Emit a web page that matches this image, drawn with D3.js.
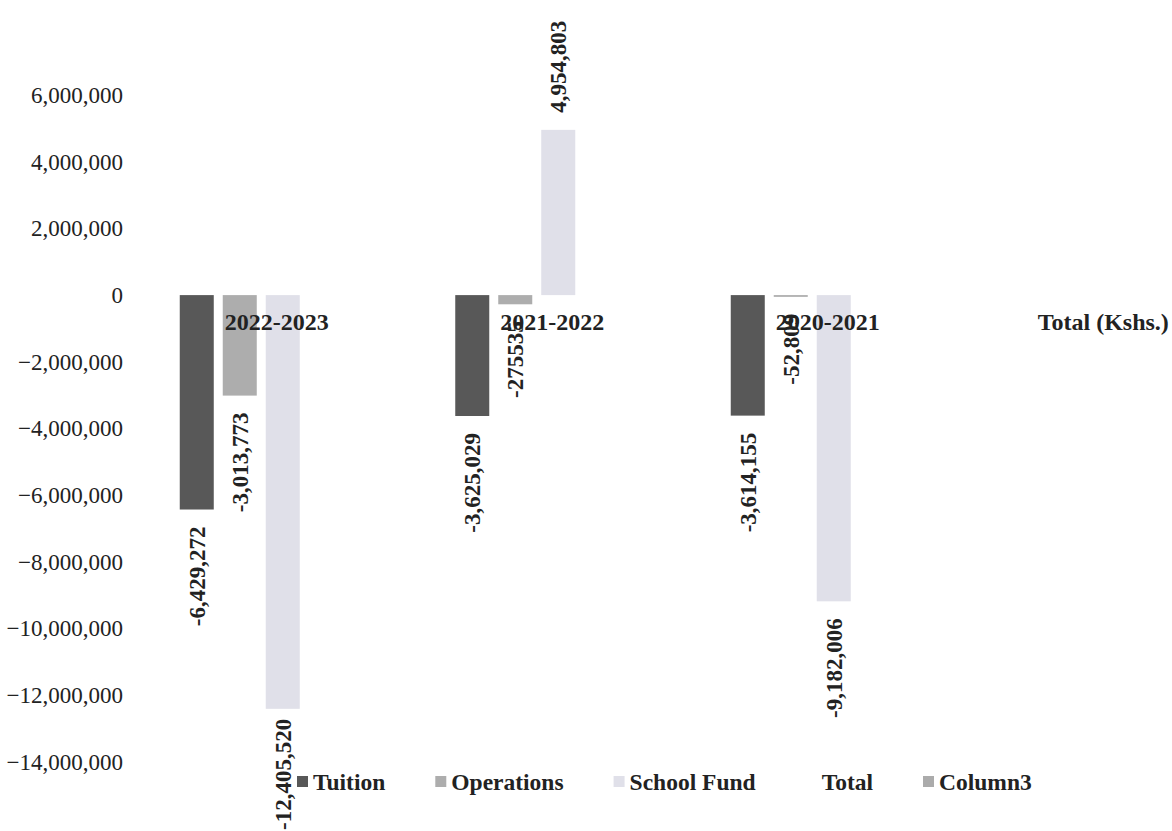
<!DOCTYPE html>
<html>
<head>
<meta charset="utf-8">
<script src="https://cdn.jsdelivr.net/npm/d3@7"></script>
<style>
  html, body { margin: 0; padding: 0; background: #fff; }
  svg { display: block; }
  text { font-family: "Liberation Serif", "Times New Roman", serif; fill: #222; }
</style>
</head>
<body>
<svg id="chart" width="1172" height="831"></svg>
<script>
// Fund balances per year (Kshs.)
const categories = ["2022-2023", "2021-2022", "2020-2021", "Total (Kshs.)"];
const seriesNames = ["Tuition", "Operations", "School Fund", "Total", "Column3"];

const tuition    = [-6429272, -3625029, -3614155, null];
const operations = [-3013773, -275535, -52809, null];
const schoolFund = [-12405520, 4954803, -9182006, null];
const total      = [null, null, null, null];
const column3    = [null, null, null, null];

// Data label text as printed on each bar
const tuitionLabels    = ["-6,429,272", "-3,625,029", "-3,614,155", null];
const operationsLabels = ["-3,013,773", "-275535", "-52,809", null];
const schoolFundLabels = ["-12,405,520", "4,954,803", "-9,182,006", null];

const tickValues = [6000000, 4000000, 2000000, 0, -2000000, -4000000, -6000000,
                    -8000000, -10000000, -12000000, -14000000];

const seriesValues = [tuition, operations, schoolFund, total, column3];
const seriesLabels = [tuitionLabels, operationsLabels, schoolFundLabels, null, null];
const seriesColors = ["#585858", "#adadad", "#e0e0e9", "none", "#ababab"];

const width = 1172, height = 831;
const svg = d3.select("#chart");

const y = d3.scaleLinear().domain([-14000000, 6000000]).range([762, 95]);

const x0 = d3.scaleBand().domain(categories).range([145, 1247]).paddingInner(0).paddingOuter(0);
const groupWidth = 206;
const groupOffset = (x0.bandwidth() - groupWidth) / 2;
const x1 = d3.scaleBand().domain(seriesNames).range([0, groupWidth]).paddingInner(0.209).paddingOuter(0);

// Y axis: labels only
const yAxis = d3.axisLeft(y)
  .tickValues(tickValues)
  .tickFormat(d3.format(","))
  .tickSize(0)
  .tickPadding(0);

svg.append("g")
  .attr("transform", "translate(123,0)")
  .call(yAxis)
  .call(g => g.select(".domain").remove())
  .call(g => g.selectAll("text")
    .attr("fill", "#2a2a2a")
    .style("font-family", "'Liberation Serif', serif")
    .style("font-size", "23px"));

// Bars
const cells = [];
seriesNames.forEach((s, si) => {
  categories.forEach((c, ci) => {
    const v = seriesValues[si][ci];
    if (v !== null) {
      cells.push({ series: s, si, cat: c, value: v,
                   label: seriesLabels[si] ? seriesLabels[si][ci] : null });
    }
  });
});

const barG = svg.append("g");
barG.selectAll("rect")
  .data(cells)
  .join("rect")
  .attr("x", d => x0(d.cat) + groupOffset + x1(d.series))
  .attr("width", x1.bandwidth())
  .attr("y", d => Math.min(y(d.value), y(0)))
  .attr("height", d => Math.abs(y(d.value) - y(0)))
  .attr("fill", d => seriesColors[d.si]);

// Category labels along the zero line
svg.append("g").selectAll("text")
  .data(categories)
  .join("text")
  .attr("x", d => x0(d) + x0.bandwidth() / 2 - 6)
  .attr("y", y(0) + 35)
  .attr("text-anchor", "middle")
  .style("font-size", "24px")
  .style("font-weight", "bold")
  .attr("fill", "#2a2a2a")
  .text(d => d);

// Rotated value labels at the bar ends, kept inside the canvas
const labelGap = 17;
svg.append("g").selectAll("text")
  .data(cells.filter(d => d.label))
  .join("text")
  .attr("text-anchor", d => d.value < 0 ? "end" : "start")
  .attr("dy", "0.35em")
  .style("font-size", "23px")
  .style("font-weight", "bold")
  .attr("fill", "#1e1e1e")
  .text(d => d.label)
  .attr("transform", function (d) {
    const cx = x0(d.cat) + groupOffset + x1(d.series) + x1.bandwidth() / 2;
    const len = this.getComputedTextLength();
    let cy;
    if (d.value < 0) {
      cy = Math.min(y(d.value) + labelGap, height - 1 - len);
    } else {
      cy = y(d.value) - labelGap;
    }
    return `translate(${cx},${cy}) rotate(-90)`;
  });

// Legend laid out left to right
const legend = svg.append("g").attr("transform", "translate(297,782)");
let lx = 0;
seriesNames.forEach((s, i) => {
  const item = legend.append("g").attr("transform", `translate(${lx},0)`);
  item.append("rect")
    .attr("x", 0).attr("y", -6)
    .attr("width", 11).attr("height", 11)
    .attr("fill", seriesColors[i]);
  const t = item.append("text")
    .attr("x", 16)
    .attr("dy", "0.35em")
    .style("font-size", "23.5px")
    .style("font-weight", "bold")
    .attr("fill", "#222")
    .text(s);
  lx += 16 + t.node().getComputedTextLength() + 50;
});
</script>
</body>
</html>
